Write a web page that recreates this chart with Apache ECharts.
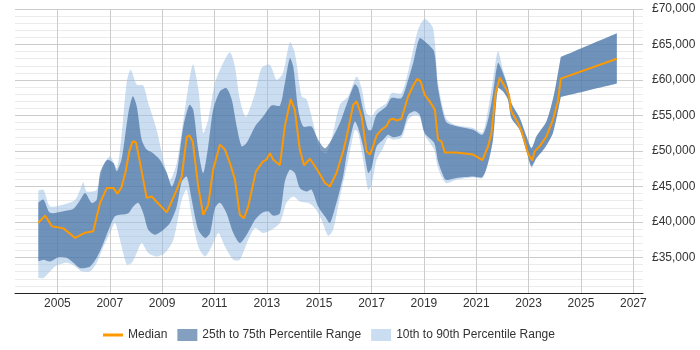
<!DOCTYPE html>
<html>
<head>
<meta charset="utf-8">
<script src="https://cdn.jsdelivr.net/npm/echarts@6/dist/echarts.min.js"></script>
<style>
  html, body { margin: 0; padding: 0; background: #fff; }
  #chart { width: 700px; height: 350px; }
</style>
</head>
<body>
<div id="chart"></div>
<script>
// ticks
const yearTicks = [2005, 2007, 2009, 2011, 2013, 2015, 2017, 2019, 2021, 2023, 2025, 2027]

// median salary
const medianYears = [2004.27, 2004.53, 2004.79, 2005.23, 2005.68, 2006.06, 2006.37, 2006.63, 2006.89, 2007.14,
  2007.29, 2007.45, 2007.6, 2007.75, 2007.88, 2008.0, 2008.16, 2008.41, 2008.6, 2008.85,
  2009.18, 2009.56, 2009.75, 2009.94, 2010.04, 2010.17, 2010.38, 2010.57, 2010.76, 2010.95,
  2011.21, 2011.4, 2011.59, 2011.78, 2011.97, 2012.13, 2012.29, 2012.58, 2012.86, 2012.99,
  2013.12, 2013.24, 2013.5, 2013.69, 2013.91, 2014.07, 2014.26, 2014.42, 2014.65, 2014.96,
  2015.22, 2015.41, 2015.66, 2015.92, 2016.05, 2016.3, 2016.43, 2016.62, 2016.81, 2016.94,
  2017.06, 2017.19, 2017.38, 2017.57, 2017.7, 2017.82, 2017.95, 2018.14, 2018.4, 2018.59,
  2018.74, 2018.88, 2019.03, 2019.22, 2019.42, 2019.54, 2019.67, 2019.8, 2020.24, 2020.88,
  2021.24, 2021.45, 2021.58, 2021.74, 2021.9, 2022.09, 2022.25, 2022.34, 2022.6, 2022.76,
  2022.98, 2023.14, 2023.23, 2023.42, 2023.68, 2023.93, 2024.12, 2024.23, 2026.37]
const medianVals = [39900, 40900, 39400, 39100, 37750, 38500, 38700, 42700, 44800, 44800,
  44000, 44900, 47000, 50000, 51400, 51200, 48300, 43400, 43600, 42600,
  41350, 44550, 46400, 52000, 52200, 51350, 45000, 41000, 42400, 47400,
  50900, 50200, 48300, 46000, 41000, 40550, 42200, 47100, 48550, 48800,
  49700, 48800, 48000, 53500, 57300, 55800, 50200, 48000, 48900, 47150,
  45500, 45000, 46900, 50000, 52000, 56500, 57000, 54900, 49950, 49500,
  50650, 52150, 53000, 53500, 54400, 54550, 54300, 54500, 57700, 59200,
  60150, 59800, 57900, 57000, 55800, 51600, 51350, 49800, 49800, 49500,
  48700, 50650, 52500, 58200, 60300, 59100, 57900, 55600, 53900, 52500,
  49600, 48650, 49950, 50650, 52050, 54400, 57000, 60200, 63000]

// 75th percentile
const p75Years = [2004.27, 2004.47, 2004.72, 2005.23, 2005.61, 2005.85, 2006.06, 2006.31, 2006.5, 2006.63,
  2006.89, 2007.14, 2007.27, 2007.46, 2007.71, 2007.88, 2008.03, 2008.22, 2008.41, 2008.66,
  2008.92, 2009.18, 2009.37, 2009.56, 2009.81, 2010.04, 2010.19, 2010.38, 2010.57, 2010.76,
  2010.95, 2011.21, 2011.46, 2011.66, 2011.85, 2012.04, 2012.23, 2012.55, 2012.86, 2013.18,
  2013.5, 2013.69, 2013.88, 2014.01, 2014.2, 2014.39, 2014.71, 2014.96, 2015.22, 2015.47,
  2015.79, 2016.11, 2016.36, 2016.49, 2016.68, 2016.87, 2017.0, 2017.19, 2017.57, 2017.76,
  2018.14, 2018.4, 2018.59, 2018.84, 2019.1, 2019.39, 2019.54, 2019.84, 2020.18, 2020.88,
  2021.24, 2021.45, 2021.64, 2021.83, 2022.02, 2022.21, 2022.34, 2022.66, 2022.92, 2023.11,
  2023.3, 2023.68, 2023.97, 2024.23, 2026.37]
const p75Vals = [42750, 43150, 41300, 41500, 41850, 43000, 44100, 42700, 43150, 46900,
  48750, 48300, 47150, 49000, 55350, 57700, 56300, 51600, 50200, 49700,
  48750, 46900, 45000, 46900, 53450, 56500, 55800, 50200, 46900, 50650,
  55800, 58400, 58850, 57250, 53450, 50650, 51150, 53450, 54850, 56400,
  56400, 59600, 63100, 61900, 55800, 53450, 53450, 51600, 50400, 51600,
  53950, 57200, 59400, 58900, 55800, 53000, 53000, 55100, 56300, 57450,
  57450, 60050, 62400, 65900, 65200, 64000, 58850, 54150, 53550, 53000,
  52300, 54400, 58150, 62400, 61000, 59000, 56750, 54650, 52050, 50400,
  52050, 54150, 57950, 63250, 66600]

// 25th percentile
const p25Years = [2004.27, 2004.47, 2004.72, 2005.04, 2005.36, 2005.61, 2005.87, 2006.25, 2006.5, 2006.76,
  2007.01, 2007.2, 2007.46, 2007.71, 2007.9, 2008.09, 2008.28, 2008.47, 2008.73, 2009.05,
  2009.3, 2009.56, 2009.75, 2009.94, 2010.13, 2010.38, 2010.64, 2010.83, 2011.02, 2011.21,
  2011.46, 2011.72, 2011.97, 2012.23, 2012.55, 2012.8, 2013.05, 2013.24, 2013.5, 2013.69,
  2013.88, 2014.07, 2014.26, 2014.52, 2014.71, 2014.96, 2015.22, 2015.41, 2015.66, 2015.79,
  2015.92, 2016.05, 2016.2, 2016.36, 2016.49, 2016.68, 2016.87, 2017.0, 2017.19, 2017.44,
  2017.63, 2017.82, 2018.14, 2018.4, 2018.65, 2018.84, 2019.03, 2019.39, 2019.54, 2019.67,
  2019.84, 2020.24, 2020.88, 2021.24, 2021.45, 2021.64, 2021.83, 2022.02, 2022.21, 2022.34,
  2022.66, 2022.92, 2023.11, 2023.3, 2023.61, 2023.93, 2024.23, 2026.37]
const p25Vals = [34450, 34700, 34450, 35050, 34950, 34250, 33500, 33750, 34950, 37050,
  39400, 40800, 41050, 41250, 42200, 42700, 41250, 38900, 38200, 38900,
  39850, 42200, 45700, 46400, 43150, 38900, 37750, 38450, 41950, 42700,
  41250, 38450, 37050, 38200, 40300, 41250, 41500, 40900, 41250, 45700,
  47350, 46900, 44800, 44300, 44550, 42200, 40800, 39850, 42700, 44500,
  46500, 49500, 52000, 54150, 53250, 50650, 46900, 47600, 50650, 51600,
  52300, 51950, 52300, 55100, 55600, 55100, 52550, 51150, 48550, 47150,
  45950, 46200, 46400, 46350, 48300, 51600, 58850, 58400, 57250, 54650,
  53000, 49950, 47850, 49000, 50400, 52550, 57600, 59500]

// 90th percentile
const p90Years = [2004.27, 2004.47, 2004.72, 2005.36, 2005.68, 2005.87, 2005.99, 2006.12, 2006.5, 2006.76,
  2007.01, 2007.27, 2007.46, 2007.65, 2007.8, 2008.03, 2008.28, 2008.47, 2008.79, 2009.05,
  2009.3, 2009.56, 2009.87, 2010.17, 2010.38, 2010.57, 2010.76, 2011.02, 2011.27, 2011.59,
  2011.78, 2011.97, 2012.2, 2012.55, 2012.8, 2013.12, 2013.37, 2013.62, 2013.88, 2014.07,
  2014.33, 2014.52, 2014.77, 2015.03, 2015.28, 2015.53, 2015.79, 2016.11, 2016.43, 2016.62,
  2016.81, 2017.0, 2017.19, 2017.57, 2017.76, 2018.14, 2018.4, 2018.78, 2019.03, 2019.35,
  2019.54, 2019.84, 2020.18, 2020.88, 2021.24, 2021.45, 2021.64, 2021.83, 2022.02, 2022.21,
  2022.34, 2022.66, 2022.92, 2023.11, 2023.3, 2023.68, 2023.97, 2024.23, 2026.37]
const p90Vals = [44450, 44550, 42200, 42600, 43150, 44550, 45600, 44300, 44550, 47850,
  49250, 47600, 52550, 59800, 61450, 59350, 59200, 56750, 53000, 48750,
  45950, 48300, 55800, 62150, 58850, 52550, 54400, 59600, 61900, 63900,
  61900, 57250, 54800, 58150, 61700, 62150, 60050, 61000, 65300, 63800,
  57700, 57250, 53950, 50200, 49700, 52550, 56500, 57700, 60500, 58850,
  55350, 54850, 55800, 56750, 58150, 58150, 61200, 67100, 68600, 67300,
  59600, 54650, 53700, 53250, 52600, 55800, 60050, 64050, 61450, 59100,
  56800, 54700, 52100, 50450, 52100, 54200, 58000, 63250, 66600]

// 10th percentile
const p10Years = [2004.27, 2004.47, 2004.66, 2004.91, 2005.36, 2005.68, 2005.93, 2006.25, 2006.5, 2006.76,
  2007.01, 2007.2, 2007.39, 2007.65, 2007.84, 2008.03, 2008.22, 2008.47, 2008.79, 2009.11,
  2009.43, 2009.75, 2009.94, 2010.13, 2010.38, 2010.64, 2010.89, 2011.15, 2011.4, 2011.72,
  2011.97, 2012.29, 2012.55, 2012.86, 2013.18, 2013.5, 2013.75, 2014.01, 2014.26, 2014.58,
  2014.84, 2015.09, 2015.34, 2015.53, 2015.79, 2016.11, 2016.36, 2016.49, 2016.68, 2016.87,
  2017.0, 2017.19, 2017.44, 2017.63, 2017.82, 2018.14, 2018.4, 2018.65, 2018.84, 2019.03,
  2019.39, 2019.54, 2019.84, 2020.24, 2020.88, 2021.24, 2021.45, 2021.64, 2021.83, 2022.02,
  2022.21, 2022.34, 2022.66, 2022.92, 2023.11, 2023.3, 2023.61, 2023.93, 2024.23, 2026.37]
const p10Vals = [32100, 32100, 32800, 33750, 34250, 33750, 33050, 33050, 34250, 36550,
  38450, 39850, 37500, 34000, 34250, 35650, 37050, 35650, 35150, 35650,
  37500, 43150, 44550, 40800, 36550, 35150, 36550, 38450, 36550, 34700,
  34700, 37500, 39150, 38450, 38900, 39850, 42700, 43600, 42900, 42700,
  41950, 40300, 38050, 38900, 43500, 48750, 53000, 52550, 48750, 44550,
  45250, 48750, 50400, 51850, 51600, 51850, 54400, 55100, 54850, 52300,
  50200, 47600, 45500, 45950, 46300, 46200, 48300, 51600, 58850, 58400,
  57250, 54650, 53000, 49950, 47600, 49000, 50400, 52550, 57600, 59500]

const zip = (xs, vs) => xs.map((x, i) => [x, vs[i]])

// doubling a vertex makes the smoothed outline turn sharply there:
// used at both ends of each edge and at the start of the straight projected part
function sharpEdge(xs, vs) {
    const pts = zip(xs, vs)
    const n = pts.length
    return [pts[0]].concat(pts.slice(0, n - 1), [pts[n - 2]], pts.slice(n - 1), [pts[n - 1]])
}

function bandSeries(name, color, upX, upV, lowX, lowV) {
    const pts = sharpEdge(upX, upV).concat(sharpEdge(lowX, lowV).reverse())
    return {
        name: name,
        type: 'custom',
        silent: true,
        itemStyle: { color: color },
        data: pts,
        renderItem: function (params, api) {
            if (params.dataIndex !== 0) return null
            return {
                type: 'polygon',
                shape: { points: pts.map(p => api.coord(p)), smooth: 0.25 },
                style: { fill: color }
            }
        }
    }
}

const fmtMoney = v => '£' + String(v).replace(/\B(?=(\d{3})+(?!\d))/g, ',')

const chart = echarts.init(document.getElementById('chart'), null, { renderer: 'canvas' })
chart.setOption({
    animation: false,
    textStyle: { fontFamily: '"Liberation Sans", Arial, sans-serif' },
    grid: { left: 15, right: 57, top: 9, bottom: 57 },
    legend: {
        left: 98,
        top: 324,
        itemWidth: 20,
        itemHeight: 12,
        itemGap: 10,
        textStyle: { color: '#333', fontSize: 12 },
        data: [
            { name: 'Median', icon: 'path://M0,0L20,0L20,3L0,3Z' },
            { name: '25th to 75th Percentile Range', icon: 'rect' },
            { name: '10th to 90th Percentile Range', icon: 'rect' }
        ]
    },
    xAxis: {
        type: 'value',
        min: 2003.38,
        max: 2027.37,
        axisLine: { lineStyle: { color: '#222' } },
        axisTick: { show: false, customValues: yearTicks },
        axisLabel: {
            customValues: yearTicks,
            color: '#333',
            fontSize: 12,
            margin: 5,
            formatter: v => String(v)
        },
        splitLine: { show: true, lineStyle: { color: '#ccc' } }
    },
    yAxis: {
        type: 'value',
        position: 'right',
        min: 30000,
        max: 70000,
        interval: 5000,
        axisLine: { show: false },
        axisTick: { show: false },
        axisLabel: {
            showMinLabel: false,
            color: '#333',
            fontSize: 12,
            margin: 9,
            formatter: fmtMoney
        },
        splitLine: { lineStyle: { color: '#ccc' } },
        minorTick: { show: false, splitNumber: 5 },
        minorSplitLine: { show: true, lineStyle: { color: '#ebebeb' } }
    },
    series: [
        bandSeries('10th to 90th Percentile Range', 'rgba(151, 187, 225, 0.5)', p90Years, p90Vals, p10Years, p10Vals),
        bandSeries('25th to 75th Percentile Range', 'rgba(50, 96, 152, 0.6)', p75Years, p75Vals, p25Years, p25Vals),
        {
            name: 'Median',
            type: 'line',
            symbol: 'none',
            color: '#FF9900',
            lineStyle: { width: 2, color: '#FF9900' },
            data: zip(medianYears, medianVals)
        }
    ]
})
</script>
</body>
</html>
